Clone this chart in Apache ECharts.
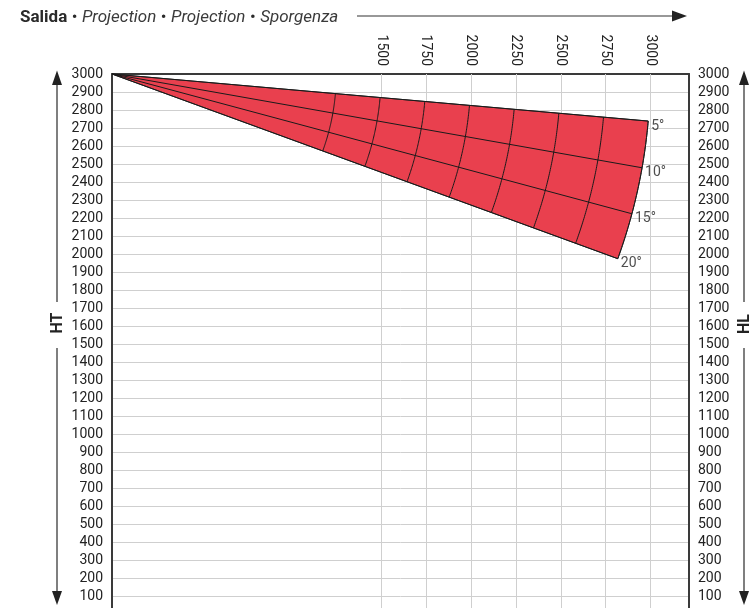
<!DOCTYPE html>
<html>
<head>
<meta charset="utf-8">
<title>Salida</title>
<script src="https://cdn.jsdelivr.net/npm/echarts@6/dist/echarts.min.js"></script>
<style>
  html, body { margin: 0; padding: 0; background: #fff; }
  #chart { width: 755px; height: 608px; }
</style>
</head>
<body>
<div id="chart"></div>
<script>
// fan geometry (projection mm / height mm)
const angles = [5, 10, 15, 20];
const radii = [1250, 1500, 1750, 2000, 2250, 2500, 2750, 3000];
const origin = [0, 3000];
// tick labels
const xLabels = [1500, 1750, 2000, 2250, 2500, 2750, 3000];
const yMin = 0;
const yMax = 3000;
const xMax = 3216;

const chart = echarts.init(document.getElementById('chart'));

function fanPoint(r, deg) {
  const a = deg * Math.PI / 180;
  return [origin[0] + r * Math.cos(a), origin[1] - r * Math.sin(a)];
}

function renderFan(params, api) {
  const aMin = angles[0];
  const aMax = angles[angles.length - 1];
  const rMax = radii[radii.length - 1];
  const o = api.coord(origin);
  const children = [];

  const outer = [];
  for (let d = aMin; d <= aMax + 1e-9; d += 0.25) {
    outer.push(api.coord(fanPoint(rMax, d)));
  }
  children.push({
    type: 'polygon',
    shape: { points: [o].concat(outer) },
    style: { fill: '#E9404E', stroke: '#2a2a2a', lineWidth: 1 },
  });
  // radial lines
  angles.forEach((a) => {
    const end = api.coord(fanPoint(rMax, a));
    children.push({
      type: 'line',
      shape: { x1: o[0], y1: o[1], x2: end[0], y2: end[1] },
      style: { stroke: '#1a1a1a', lineWidth: 1 },
    });
  });
  // arcs
  radii.forEach((r) => {
    const pts = [];
    for (let d = aMin; d <= aMax + 1e-9; d += 0.25) {
      pts.push(api.coord(fanPoint(r, d)));
    }
    children.push({
      type: 'polyline',
      shape: { points: pts },
      style: { stroke: '#1a1a1a', lineWidth: 1, fill: null },
    });
  });
  return { type: 'group', children: children };
}

// vertical grid line at one labelled projection
function renderVGrid(params, api) {
  const v = api.value(0);
  const p1 = api.coord([v, yMin]);
  const p2 = api.coord([v, yMax]);
  return {
    type: 'line',
    shape: { x1: Math.round(p1[0]) + 0.5, y1: p1[1], x2: Math.round(p2[0]) + 0.5, y2: p2[1] },
    style: { stroke: '#cfcfcf', lineWidth: 1 },
  };
}

const lineColor = '#3a3a3a';
const font = 'Roboto, "Noto Sans", sans-serif';

const option = {
  backgroundColor: '#fff',
  animation: false,
  textStyle: { fontFamily: font },
  title: {
    left: 20,
    top: 9,
    padding: 0,
    text: '{b|Salida} {n|•} {i|Projection} {n|•} {i|Projection} {n|•} {i|Sporgenza}',
    textStyle: {
      fontWeight: 'normal',
      rich: {
        b: { fontFamily: font, fontSize: 17, fontWeight: 'bold', color: '#2a2a2a' },
        n: { fontFamily: font, fontSize: 17, fontWeight: 'normal', color: '#2a2a2a' },
        i: { fontFamily: font, fontSize: 17, fontWeight: 'normal', fontStyle: 'italic', color: '#3a3a3a' },
      },
    },
  },
  grid: {
    left: 112,
    top: 74,
    width: 577,
    height: 540,
    outerBoundsMode: 'none',
  },
  xAxis: {
    type: 'value',
    position: 'top',
    min: 0,
    max: xMax,
    interval: 250,
    axisLine: { show: true, onZero: false, lineStyle: { color: lineColor, width: 2 } },
    axisTick: { show: false },
    splitLine: { show: false },
    axisLabel: {
      rotate: 90,
      margin: 8,
      color: '#222',
      fontSize: 14,
      fontFamily: font,
      showMinLabel: false,
      showMaxLabel: false,
      formatter: (v) => (xLabels.indexOf(v) >= 0 ? String(v) : ''),
    },
  },
  yAxis: [
    {
      type: 'value',
      position: 'left',
      min: yMin,
      max: yMax,
      interval: 100,
      axisLine: { show: true, onZero: false, lineStyle: { color: lineColor, width: 2 } },
      axisTick: { show: false },
      splitLine: { show: true, lineStyle: { color: '#cfcfcf', width: 1 } },
      axisLabel: {
        margin: 9,
        color: '#222',
        fontSize: 14,
        fontFamily: font,
        formatter: (v) => (v === 0 ? '' : String(v)),
      },
    },
    {
      type: 'value',
      position: 'right',
      min: yMin,
      max: yMax,
      interval: 100,
      axisLine: { show: true, onZero: false, lineStyle: { color: lineColor, width: 2 } },
      axisTick: { show: false },
      splitLine: { show: false },
      axisLabel: {
        margin: 9,
        color: '#222',
        fontSize: 14,
        fontFamily: font,
        formatter: (v) => (v === 0 ? '' : String(v)),
      },
    },
  ],
  series: [
    {
      type: 'custom',
      z: 1,
      silent: true,
      renderItem: renderVGrid,
      data: xLabels.map((v) => [v, yMax]),
    },
    {
      type: 'custom',
      z: 3,
      silent: true,
      renderItem: renderFan,
      data: [[0, 0]],
    },
    {
      type: 'scatter',
      z: 4,
      silent: true,
      symbolSize: 0,
      data: angles.map((a) => fanPoint(radii[radii.length - 1], a).concat([a])),
      label: {
        show: true,
        position: 'right',
        distance: 3,
        offset: [0, 5],
        color: '#222',
        fontSize: 14,
        fontFamily: font,
        formatter: (p) => p.value[2] + '°',
      },
    },
  ],
  graphic: [
    // top arrow
    { type: 'line', shape: { x1: 357, y1: 16, x2: 676, y2: 16 }, style: { stroke: '#333', lineWidth: 1.2 } },
    { type: 'polygon', shape: { points: [[672, 10.5], [687, 16], [672, 21.5]] }, style: { fill: '#222' } },
    // left HT arrows
    { type: 'line', shape: { x1: 57, y1: 82, x2: 57, y2: 302 }, style: { stroke: '#555', lineWidth: 1.5 } },
    { type: 'line', shape: { x1: 57, y1: 348, x2: 57, y2: 594 }, style: { stroke: '#555', lineWidth: 1.5 } },
    { type: 'polygon', shape: { points: [[52, 85], [57, 70.5], [62, 85]] }, style: { fill: '#222' } },
    { type: 'polygon', shape: { points: [[52, 591], [57, 605], [62, 591]] }, style: { fill: '#222' } },
    {
      type: 'text', x: 58, y: 323, rotation: Math.PI / 2,
      style: { text: 'HT', fontFamily: font, fontSize: 16, fontWeight: 'bold', fill: '#222', align: 'center', verticalAlign: 'middle' },
    },
    // right HL arrows
    { type: 'line', shape: { x1: 744, y1: 82, x2: 744, y2: 302 }, style: { stroke: '#555', lineWidth: 1.5 } },
    { type: 'line', shape: { x1: 744, y1: 348, x2: 744, y2: 594 }, style: { stroke: '#555', lineWidth: 1.5 } },
    { type: 'polygon', shape: { points: [[739, 85], [744, 70.5], [749, 85]] }, style: { fill: '#222' } },
    { type: 'polygon', shape: { points: [[739, 591], [744, 605], [749, 591]] }, style: { fill: '#222' } },
    {
      type: 'text', x: 745, y: 324, rotation: Math.PI / 2,
      style: { text: 'HL', fontFamily: font, fontSize: 16, fontWeight: 'bold', fill: '#222', align: 'center', verticalAlign: 'middle' },
    },
  ],
};

chart.setOption(option);
</script>
</body>
</html>
